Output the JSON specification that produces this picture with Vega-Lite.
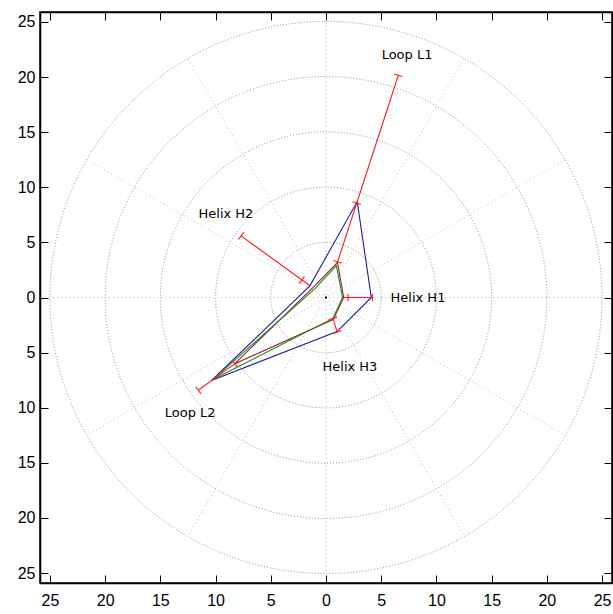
{
  "$schema": "https://vega.github.io/schema/vega-lite/v6.json",
  "width": 572,
  "height": 571,
  "autosize": "none",
  "padding": {"left": 40, "top": 12, "right": 1, "bottom": 31},
  "background": "white",
  "config": {
    "view": {"stroke": "black", "strokeWidth": 1.5},
    "axis": {"domainColor": "black", "domainWidth": 1.5, "tickColor": "black", "tickWidth": 1, "labelColor": "black", "labelFont": "Liberation Sans", "labelFontSize": 16, "grid": false, "title": null}
  },
  "datasets": {
    "rings": [{"c": 0, "r": 5}, {"c": 0, "r": 10}, {"c": 0, "r": 15}, {"c": 0, "r": 20}, {"c": 0, "r": 25}],
    "spokes": [
      {"x": 25, "y": 0, "x2": -25, "y2": 0},
      {"x": 21.65, "y": 12.5, "x2": -21.65, "y2": -12.5},
      {"x": 12.5, "y": 21.65, "x2": -12.5, "y2": -21.65},
      {"x": 0, "y": 25, "x2": 0, "y2": -25},
      {"x": -12.5, "y": 21.65, "x2": 12.5, "y2": -21.65},
      {"x": -21.65, "y": 12.5, "x2": 21.65, "y2": -12.5}
    ],
    "poly": [
      {"s": "blue", "o": 0, "x": 4.1, "y": 0},
      {"s": "blue", "o": 1, "x": 2.83, "y": 8.7},
      {"s": "blue", "o": 2, "x": -1.46, "y": 1.06},
      {"s": "blue", "o": 3, "x": -10.36, "y": -7.53},
      {"s": "blue", "o": 4, "x": 1.0, "y": -3.09},
      {"s": "blue", "o": 5, "x": 4.1, "y": 0},
      {"s": "darkred", "o": 0, "x": 1.6, "y": 0},
      {"s": "darkred", "o": 1, "x": 1.04, "y": 3.19},
      {"s": "darkred", "o": 2, "x": -1.21, "y": 0.88},
      {"s": "darkred", "o": 3, "x": -8.25, "y": -6.0},
      {"s": "darkred", "o": 4, "x": 0.65, "y": -2.0},
      {"s": "darkred", "o": 5, "x": 1.6, "y": 0},
      {"s": "green", "o": 0, "x": 1.5, "y": 0},
      {"s": "green", "o": 1, "x": 0.94, "y": 2.9},
      {"s": "green", "o": 2, "x": -1.05, "y": 0.76},
      {"s": "green", "o": 3, "x": -10.19, "y": -7.41},
      {"s": "green", "o": 4, "x": 0.62, "y": -1.9},
      {"s": "green", "o": 5, "x": 1.5, "y": 0}
    ],
    "errs": [
      {"x": 1.6, "y": 0, "x2": 4.2, "y2": 0},
      {"x": 2.0, "y": -0.35, "x2": 2.0, "y2": 0.35},
      {"x": 4.2, "y": -0.35, "x2": 4.2, "y2": 0.35},
      {"x": 1.05, "y": 3.23, "x2": 6.55, "y2": 20.16},
      {"x": 6.17, "y": 20.28, "x2": 6.93, "y2": 20.04},
      {"x": 0.67, "y": 3.35, "x2": 1.43, "y2": 3.11},
      {"x": 2.4, "y": 8.68, "x2": 3.16, "y2": 8.44},
      {"x": -1.46, "y": 1.06, "x2": -7.69, "y2": 5.59},
      {"x": -7.92, "y": 5.27, "x2": -7.45, "y2": 5.91},
      {"x": -2.42, "y": 1.26, "x2": -1.95, "y2": 1.91},
      {"x": -8.25, "y": -6.0, "x2": -11.57, "y2": -8.41},
      {"x": -11.8, "y": -8.09, "x2": -11.33, "y2": -8.73},
      {"x": -8.49, "y": -5.68, "x2": -8.02, "y2": -6.32},
      {"x": 0.62, "y": -1.9, "x2": 1.02, "y2": -3.14},
      {"x": 0.64, "y": -3.26, "x2": 1.4, "y2": -3.02},
      {"x": 0.24, "y": -2.02, "x2": 1.0, "y2": -1.78}
    ],
    "labels": [
      {"t": "Loop L1", "x": 7.34, "y": 21.96},
      {"t": "Helix H1", "x": 8.33, "y": 0},
      {"t": "Helix H2", "x": -9.06, "y": 7.62},
      {"t": "Loop L2", "x": -12.3, "y": -10.5},
      {"t": "Helix H3", "x": 2.17, "y": -6.26}
    ]
  },
  "resolve": {"axis": {"x": "independent", "y": "independent"}},
  "layer": [
    {
      "data": {"name": "rings"},
      "mark": {"type": "point", "shape": "circle", "filled": false, "stroke": "#707070", "strokeWidth": 0.8, "strokeDash": [1, 2], "opacity": 1},
      "encoding": {
        "x": {"field": "c", "type": "quantitative", "scale": {"domain": [-25.9, 25.9], "nice": false, "zero": false},
          "axis": {"orient": "bottom", "values": [-25, -20, -15, -10, -5, 0, 5, 10, 15, 20, 25], "labelExpr": "format(abs(datum.value), 'd')", "tickSize": -8, "labelPadding": 17}},
        "y": {"field": "c", "type": "quantitative", "scale": {"domain": [-25.9, 25.9], "nice": false, "zero": false},
          "axis": {"orient": "left", "values": [-25, -20, -15, -10, -5, 0, 5, 10, 15, 20, 25], "labelExpr": "format(abs(datum.value), 'd')", "tickSize": -8, "labelPadding": 13}},
        "size": {"field": "r", "type": "quantitative", "scale": {"type": "pow", "exponent": 2, "domain": [0, 25.9], "range": [0, 327184]}, "legend": null}
      }
    },
    {
      "data": {"name": "spokes"},
      "mark": {"type": "rule", "stroke": "#a8a8a8", "strokeWidth": 0.8, "strokeDash": [1, 3]},
      "encoding": {
        "x": {"field": "x", "type": "quantitative", "axis": null},
        "y": {"field": "y", "type": "quantitative", "axis": null},
        "x2": {"field": "x2"},
        "y2": {"field": "y2"}
      }
    },
    {
      "data": {"name": "poly"},
      "mark": {"type": "line", "strokeWidth": 1.1},
      "encoding": {
        "x": {"field": "x", "type": "quantitative", "axis": null},
        "y": {"field": "y", "type": "quantitative", "axis": null},
        "order": {"field": "o", "type": "quantitative"},
        "color": {"field": "s", "type": "nominal", "scale": {"domain": ["blue", "darkred", "green"], "range": ["#1c1ca0", "#9a2020", "#208a20"]}, "legend": null}
      }
    },
    {
      "data": {"name": "errs"},
      "mark": {"type": "rule", "stroke": "#ff1a1a", "strokeWidth": 1.1},
      "encoding": {
        "x": {"field": "x", "type": "quantitative", "axis": null},
        "y": {"field": "y", "type": "quantitative", "axis": null},
        "x2": {"field": "x2"},
        "y2": {"field": "y2"}
      }
    },
    {
      "data": {"name": "rings"},
      "transform": [{"filter": "datum.r == 5"}],
      "mark": {"type": "point", "shape": "square", "filled": true, "color": "black", "size": 4, "opacity": 1},
      "encoding": {
        "x": {"field": "c", "type": "quantitative", "axis": null},
        "y": {"field": "c", "type": "quantitative", "axis": null}
      }
    },
    {
      "data": {"name": "labels"},
      "mark": {"type": "text", "font": "DejaVu Sans", "fontSize": 13, "color": "black", "align": "center", "baseline": "middle"},
      "encoding": {
        "x": {"field": "x", "type": "quantitative", "axis": null},
        "y": {"field": "y", "type": "quantitative", "axis": null},
        "text": {"field": "t"}
      }
    },
    {
      "data": {"name": "rings"},
      "mark": {"type": "point", "opacity": 0},
      "encoding": {
        "x": {"field": "c", "type": "quantitative",
          "axis": {"orient": "top", "values": [-25, -20, -15, -10, -5, 0, 5, 10, 15, 20, 25], "labels": false, "tickSize": -8}},
        "y": {"field": "c", "type": "quantitative",
          "axis": {"orient": "right", "values": [-25, -20, -15, -10, -5, 0, 5, 10, 15, 20, 25], "labels": false, "tickSize": -8}}
      }
    }
  ]
}
